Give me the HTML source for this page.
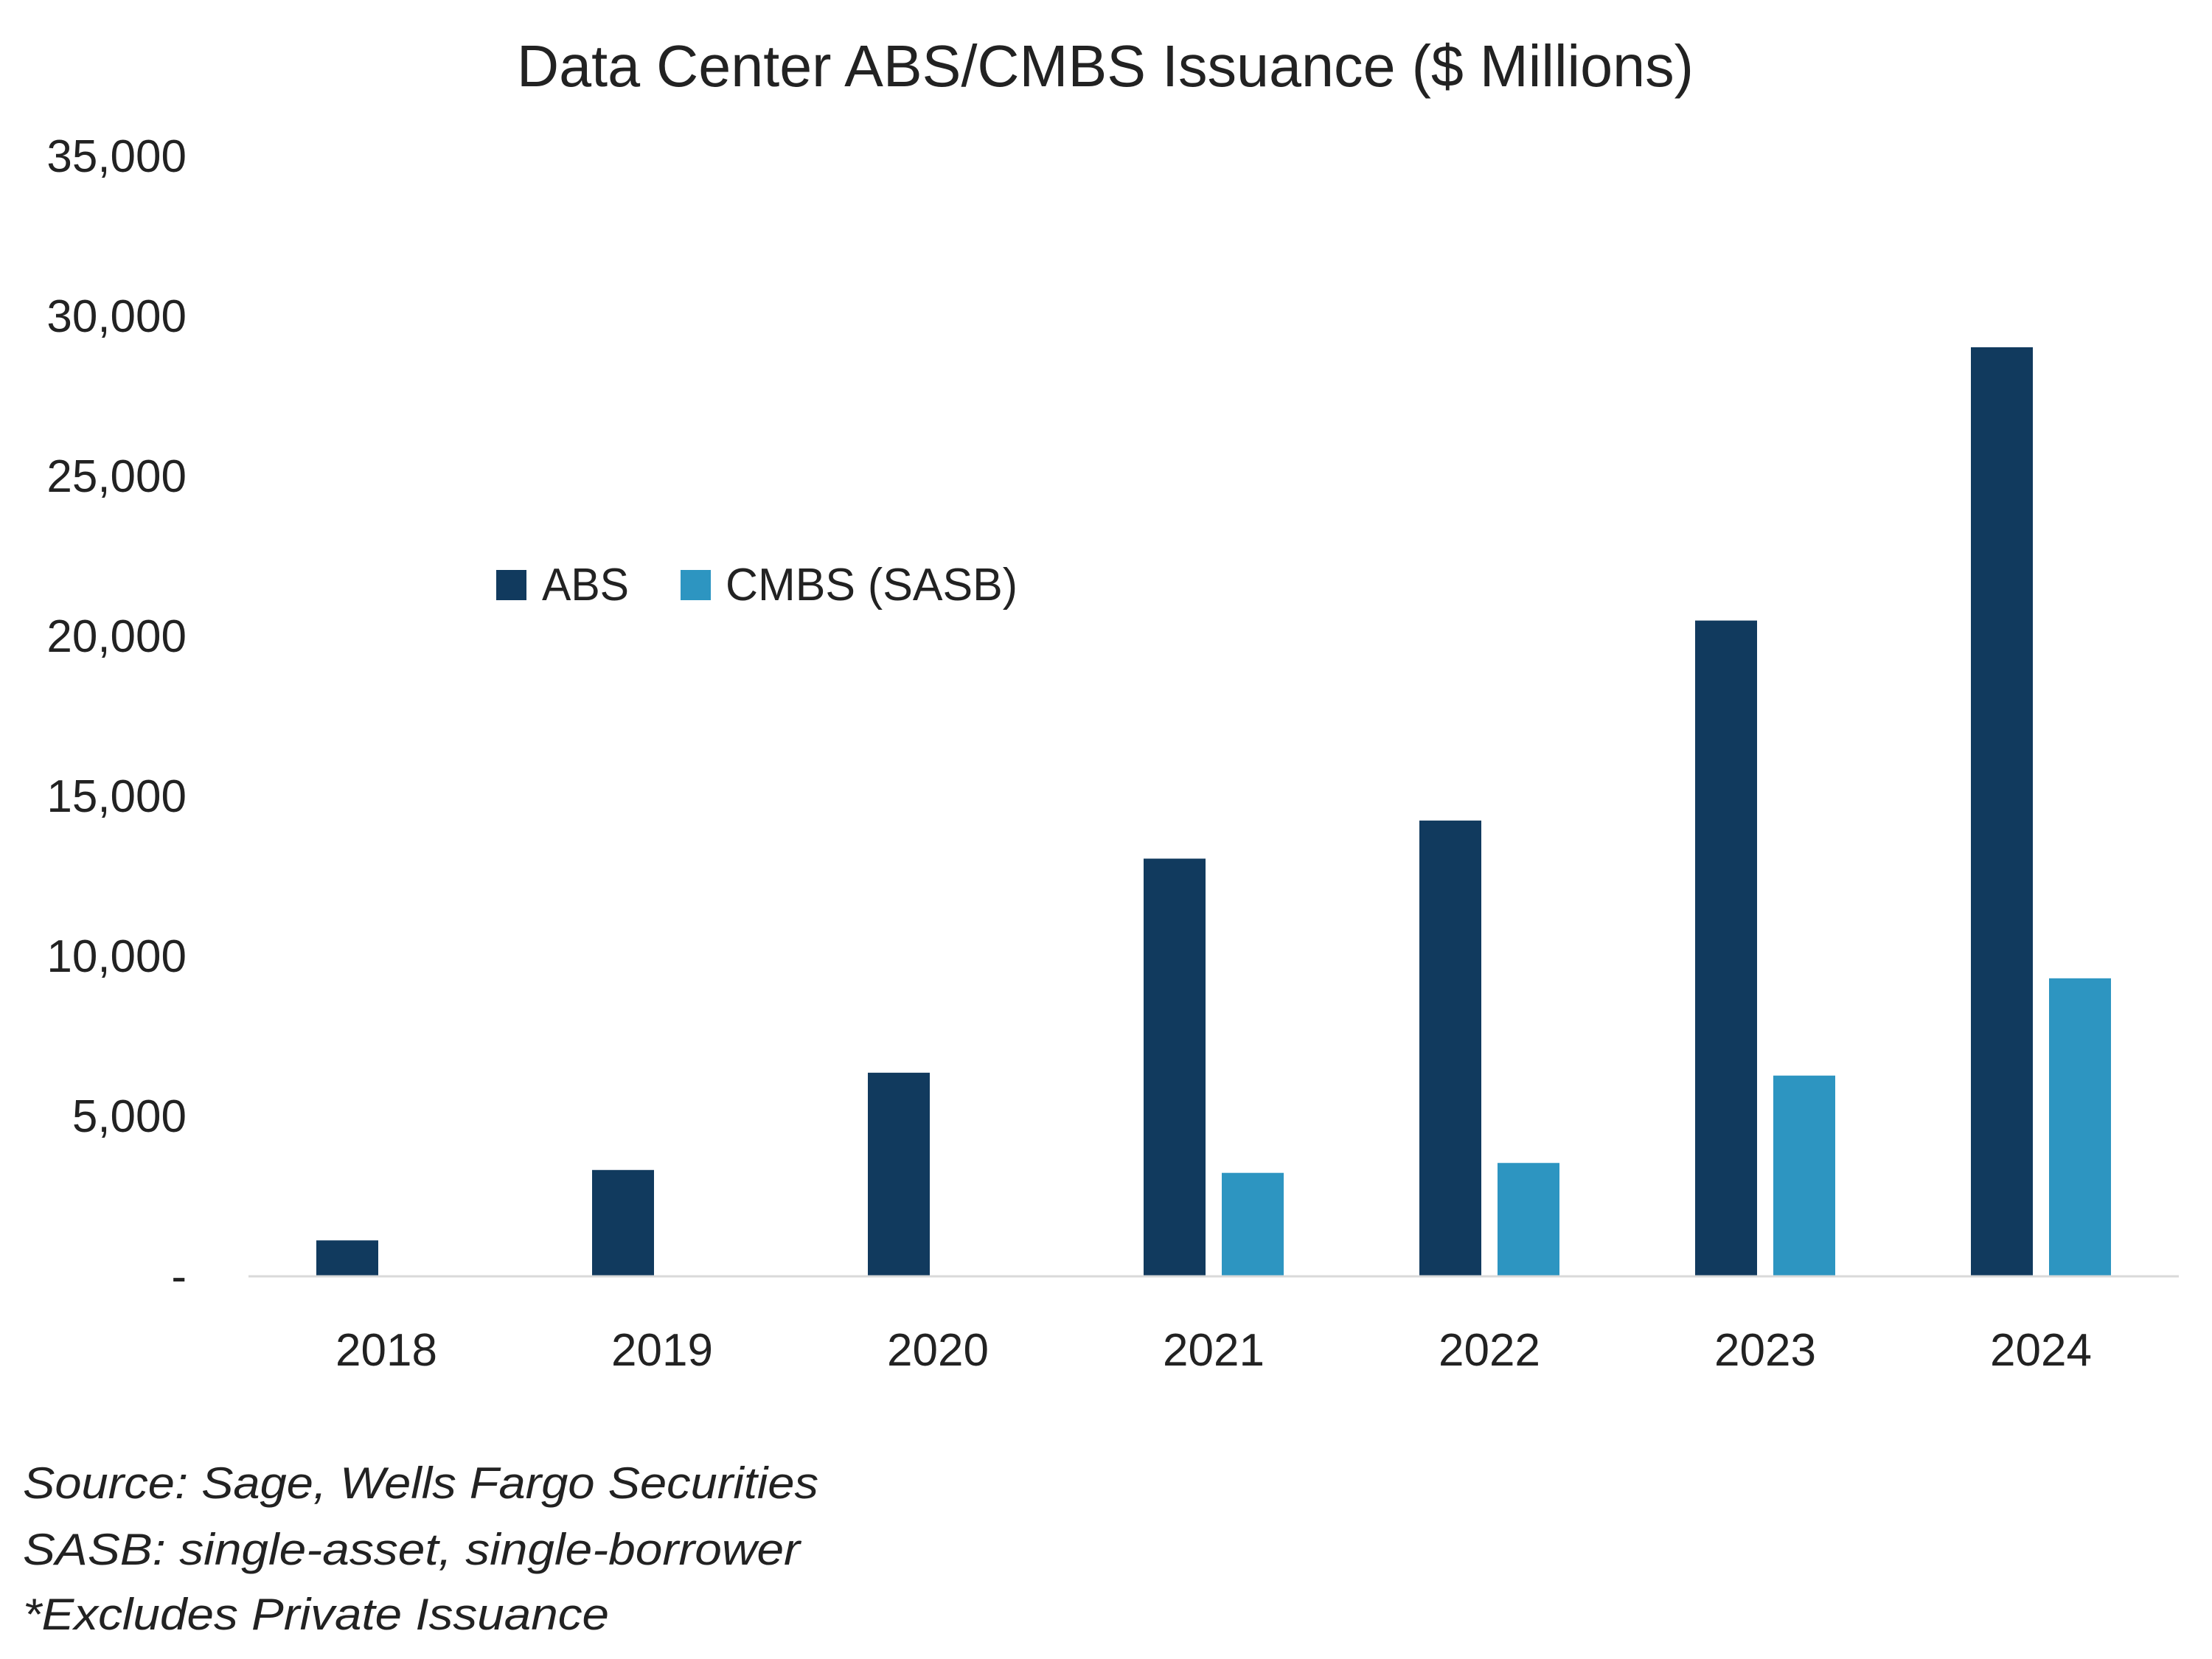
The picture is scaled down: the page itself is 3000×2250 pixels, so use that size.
<!DOCTYPE html>
<html><head><meta charset="utf-8"><style>
html,body{margin:0;padding:0;background:#fff;}
svg{display:block;font-family:"Liberation Sans",sans-serif;}
</style></head><body>
<svg id="chart" width="3000" height="2250" viewBox="0 0 3000 2250" xmlns="http://www.w3.org/2000/svg">
<rect width="3000" height="2250" fill="#fff"/>
<text x="1499" y="117" font-size="80" fill="#222" text-anchor="middle" textLength="1596" lengthAdjust="spacingAndGlyphs">Data Center ABS/CMBS Issuance ($ Millions)</text>
<g id="yaxis"></g>
<g id="bars"></g>
<g id="xaxis"></g>
<g>
<g>
<rect x="673" y="773" width="41" height="41" fill="#113a5e"/>
<text x="735" y="814" font-size="62" fill="#222" textLength="118" lengthAdjust="spacingAndGlyphs">ABS</text></g>
<g>
<rect x="923" y="773" width="41" height="41" fill="#2d95c1"/>
<text x="984" y="814" font-size="62" fill="#222" textLength="396" lengthAdjust="spacingAndGlyphs">CMBS (SASB)</text></g>
</g>
<g font-style="italic" font-size="60" fill="#222">
<text x="31" y="2032" textLength="1079" lengthAdjust="spacingAndGlyphs">Source: Sage, Wells Fargo Securities</text>
<text x="31" y="2122" textLength="1054" lengthAdjust="spacingAndGlyphs">SASB: single-asset, single-borrower</text>
<text x="31" y="2210" textLength="795" lengthAdjust="spacingAndGlyphs">*Excludes Private Issuance</text>
</g>
</svg>
<script>
const categories = ["2018","2019","2020","2021","2022","2023","2024"];
const absValues = [1100, 3300, 6340, 13030, 14220, 20470, 29010];
const cmbsValues = [0, 0, 0, 3210, 3520, 6250, 9290];
const yTickValues = [0, 5000, 10000, 15000, 20000, 25000, 30000, 35000];
const yTickLabels = ["-", "5,000", "10,000", "15,000", "20,000", "25,000", "30,000", "35,000"];

const NS = "http://www.w3.org/2000/svg";
const plotLeft = 337, plotRight = 2955, y0 = 1730, pxPerUnit = 217 / 5000;
const catW = (plotRight - plotLeft) / categories.length;
const barW = 84, gap = 22;
function yScale(v){ return y0 - v * pxPerUnit; }
function xCenter(i){ return plotLeft + catW * (i + 0.5); }
function mk(tag, attrs, parent){ const e = document.createElementNS(NS, tag); for (const k in attrs) e.setAttribute(k, attrs[k]); parent.appendChild(e); return e; }

const yaxis = document.getElementById('yaxis');
yTickValues.forEach((v, i) => {
  const t = mk('text', {x: 253, y: yScale(v) + 22, 'font-size': 62, fill: '#222', 'text-anchor': 'end'}, yaxis);
  t.textContent = yTickLabels[i];
  
  
});

const bars = document.getElementById('bars');
categories.forEach((c, i) => {
  const cx = xCenter(i);
  const a = mk('rect', {x: cx - gap/2 - barW, y: yScale(absValues[i]), width: barW, height: y0 - yScale(absValues[i]), fill: '#113a5e'}, bars);
  
  
  if (cmbsValues[i] > 0) {
    const b = mk('rect', {x: cx + gap/2, y: yScale(cmbsValues[i]), width: barW, height: y0 - yScale(cmbsValues[i]), fill: '#2d95c1'}, bars);
    
    
  }
});

const xaxis = document.getElementById('xaxis');
const line = mk('line', {x1: plotLeft, x2: plotRight, y1: y0 + 1, y2: y0 + 1, stroke: '#d9d9d9', 'stroke-width': 3}, xaxis);


categories.forEach((c, i) => {
  const t = mk('text', {x: xCenter(i), y: 1852, 'font-size': 62, fill: '#222', 'text-anchor': 'middle'}, xaxis);
  t.textContent = c;
  
  
});
</script>
</body></html>
